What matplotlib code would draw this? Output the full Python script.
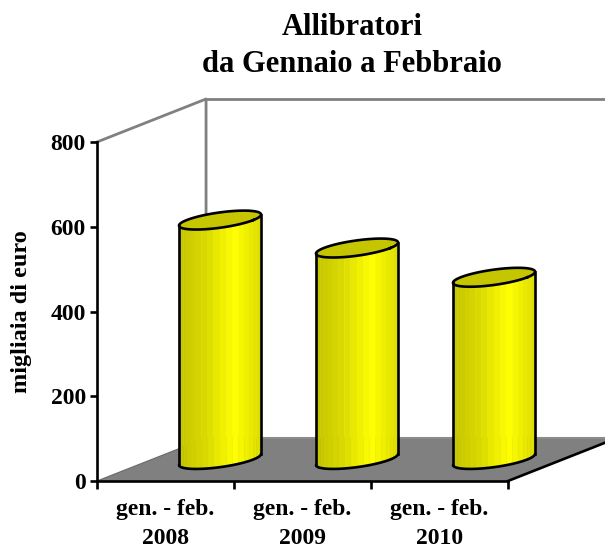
import matplotlib
matplotlib.use("Agg")
import matplotlib.pyplot as plt
import numpy as np
from matplotlib.colors import LinearSegmentedColormap

# dati
periodi = ["gen. - feb.\n2008", "gen. - feb.\n2009", "gen. - feb.\n2010"]
valori = [565, 499, 430]
yticks = [0, 200, 400, 600, 800]

plt.rcParams['font.family'] = ['Liberation Serif', 'DejaVu Serif']
plt.rcParams['font.weight'] = 'bold'

W, H = 605, 548
fig = plt.figure(figsize=(W/100, H/100), dpi=100)
ax = fig.add_axes([97/W, (H-481)/H, 411/W, 339/H])
ax.set_xlim(0, 3)
ax.set_ylim(0, 800)
ax.patch.set_visible(False)

# profondita' 3D in unita' dati
dx3 = 0.796
dy3 = 101.5
n = len(valori)
grigio = '#808080'
lw_n = 1.9

# pavimento e pareti
ax.fill([0, n, n+dx3, dx3], [0, 0, dy3, dy3], color=grigio, lw=0, clip_on=False, zorder=1)
ax.plot([dx3, n+dx3], [dy3, dy3], color='#8c8c8c', lw=1.5, clip_on=False, zorder=1.5)
ax.plot([0, dx3], [0, dy3], color='#6a6a6a', lw=0.8, clip_on=False, zorder=1.5)
ax.plot([0, dx3, dx3], [800, 800+dy3, dy3], color=grigio, lw=2, clip_on=False, zorder=1)
ax.plot([dx3, n+dx3], [800+dy3, 800+dy3], color=grigio, lw=2, clip_on=False, zorder=1)
ax.plot([n, n+dx3], [0, dy3], color='black', lw=lw_n, clip_on=False, zorder=2)

# cilindri
r = 0.243
k = 0.22
vx, vy = k*dx3, k*dy3
t0 = np.arctan2(vx, r)
shade = LinearSegmentedColormap.from_list('giallo', [(0, '#c4c400'), (0.35, '#dcdc00'), (0.68, '#ffff00'), (1, '#dcdc00')])

def ellisse(cx, cy, t):
    return cx + r*np.cos(t) + vx*np.sin(t), cy + vy*np.sin(t)

for i, v in enumerate(valori):
    cx = i + 0.5 + dx3/2
    cy = dy3/2
    t = np.linspace(t0-np.pi, t0, 21)
    xb, yb = ellisse(cx, cy, t)
    xt, yt = ellisse(cx, cy+v, t)
    x0, x1 = xb.min(), xb.max()
    # bande verticali
    for j in range(len(t)-1):
        f = ((xb[j]+xb[j+1])/2 - x0)/(x1-x0)
        ax.fill([xb[j], xb[j+1], xt[j+1], xt[j]], [yb[j], yb[j+1], yt[j+1], yt[j]],
                color=shade(f), lw=0.3, clip_on=False, zorder=3)
    # faccia superiore
    tt = np.linspace(0, 2*np.pi, 121)
    xe, ye = ellisse(cx, cy+v, tt)
    ax.fill(xe, ye, color='#c6c600', lw=0, clip_on=False, zorder=4)
    ax.plot(xe, ye, color='black', lw=lw_n, clip_on=False, zorder=5)
    # contorno
    ax.plot(xb, yb, color='black', lw=lw_n, clip_on=False, zorder=5, solid_capstyle='round')
    ax.plot([x0, x0], [yb[0], yt[0]], color='black', lw=lw_n, clip_on=False, zorder=5)
    ax.plot([x1, x1], [yb[-1], yt[-1]], color='black', lw=lw_n, clip_on=False, zorder=5)

# assi
for s in ['top', 'right']:
    ax.spines[s].set_visible(False)
for s in ['left', 'bottom']:
    ax.spines[s].set_linewidth(lw_n)
    ax.spines[s].set_zorder(6)
ax.set_yticks(yticks)
ax.set_yticklabels([str(y) for y in yticks], fontsize=17)
ax.set_xticks(range(n+1))
ax.set_xticklabels([])
ax.set_xticks(np.arange(n)+0.5, minor=True)
ax.set_xticklabels(periodi, minor=True, fontsize=17, linespacing=1.5)
ax.tick_params(axis='y', length=5, width=lw_n, pad=3)
ax.tick_params(axis='x', which='major', length=6, width=lw_n)
ax.tick_params(axis='x', which='minor', length=0, pad=13)

fig.text(22/W, 1-312/H, "migliaia di euro", rotation=90, ha='center', va='center', fontsize=17.5)
fig.text(352/W, 1-46/H, "Allibratori\nda Gennaio a Febbraio", ha='center', va='center',
         fontsize=22, linespacing=1.33)

fig.savefig("out.png", dpi=100)
